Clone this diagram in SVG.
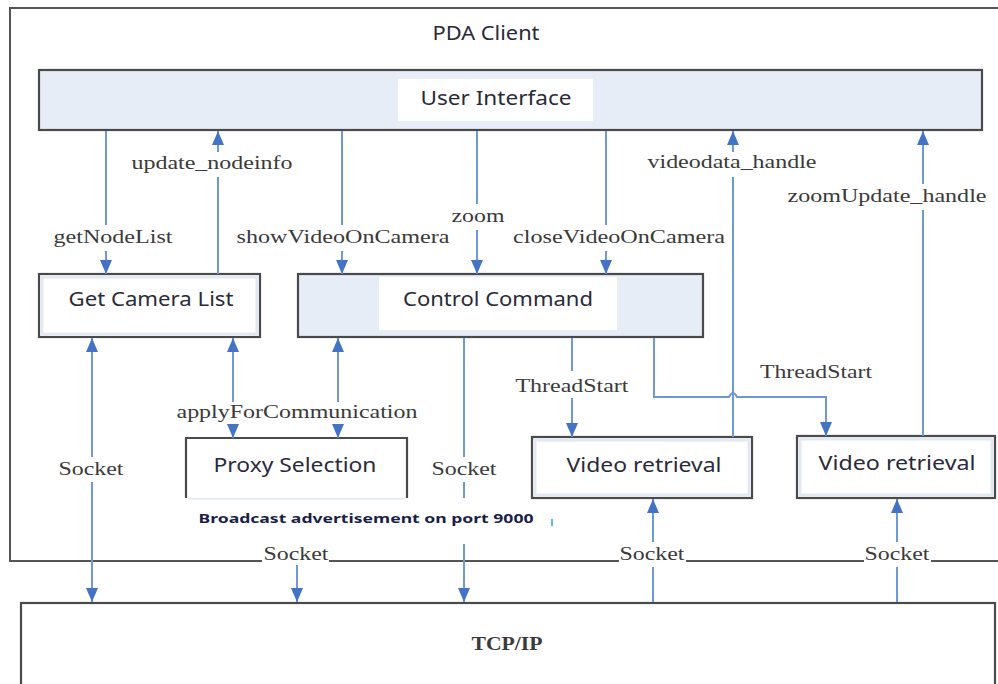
<svg xmlns="http://www.w3.org/2000/svg" width="998" height="684" viewBox="0 0 998 684">
<style>
.frame{fill:none;stroke:#555;stroke-width:2}
.box{fill:#fff;stroke:#4a4a4a;stroke-width:2.2}
.boxb{fill:#e6edf7;stroke:#4a4a4a;stroke-width:2.2}
.inner{fill:none;stroke:#e2e9f4;stroke-width:3}
.t{font-family:"Noto Sans","Open Sans",sans-serif;font-size:19px;fill:#2a2a3a;text-anchor:middle}
.l{font-family:"Liberation Serif","Times New Roman",serif;font-size:19px;fill:#3a3a3a;text-anchor:middle}
.c{fill:none;stroke:#7098d4;stroke-width:2}
.bc{font-family:"Noto Sans","Open Sans",sans-serif;font-size:13px;font-weight:bold;fill:#1a1f4a;text-anchor:middle}
</style>
<defs>
<marker id="ah" viewBox="0 0 14 12" refX="14" refY="6" markerWidth="14" markerHeight="12" markerUnits="userSpaceOnUse" orient="auto">
<path d="M0,0 L14,6 L0,12 z" fill="#4472c4"/>
</marker>
</defs>
<rect width="998" height="684" fill="#fff"/>
<g id="pda-client">
<path class="frame" d="M1000,8 L10,8 L10,561 L262,561 M329,561 L619,561 M686,561 L864,561 M931,561 L1000,561"/>
<text class="t" x="486" y="40" textLength="107" lengthAdjust="spacingAndGlyphs" font-size="18">PDA Client</text>
</g>
<g id="user-interface">
<rect class="boxb" x="39" y="70" width="943" height="60"/>
<rect x="398" y="79" width="195" height="42" fill="#fff"/>
<text class="t" x="496" y="105" textLength="151" lengthAdjust="spacingAndGlyphs">User Interface</text>
</g>
<g id="get-camera-list">
<rect class="box" x="39" y="274" width="221" height="63"/>
<rect class="inner" x="42" y="277" width="215" height="57"/>
<text class="t" x="151" y="306" textLength="165" lengthAdjust="spacingAndGlyphs">Get Camera List</text>
</g>
<g id="control-command">
<rect class="boxb" x="298" y="274" width="405" height="63"/>
<rect x="379" y="277" width="238" height="53" fill="#fff"/>
<text class="t" x="498" y="306" textLength="190" lengthAdjust="spacingAndGlyphs">Control Command</text>
</g>
<g id="proxy-selection">
<rect x="186" y="438" width="221" height="60" fill="#fff"/>
<rect class="inner" x="189" y="441" width="215" height="57"/>
<path class="box" fill="none" d="M186,498 L186,438 L407,438 L407,498"/>
<text class="t" x="295" y="472" textLength="163" lengthAdjust="spacingAndGlyphs">Proxy Selection</text>
</g>
<g id="video-retrieval-1">
<rect class="box" x="532" y="437" width="220" height="61"/>
<rect class="inner" x="535" y="440" width="214" height="55"/>
<text class="t" x="644" y="472" textLength="155" lengthAdjust="spacingAndGlyphs">Video retrieval</text>
</g>
<g id="video-retrieval-2">
<rect class="box" x="797" y="436" width="198" height="62"/>
<rect class="inner" x="800" y="439" width="192" height="56"/>
<text class="t" x="897" y="470" textLength="157" lengthAdjust="spacingAndGlyphs">Video retrieval</text>
</g>
<g id="tcp-ip">
<rect class="box" x="21" y="603" width="974" height="90"/>
<text class="l" x="507" y="650" font-weight="bold" fill="#444" textLength="71" lengthAdjust="spacingAndGlyphs">TCP/IP</text>
</g>
<g id="broadcast-note">
<text class="bc" x="366" y="523" textLength="335" lengthAdjust="spacingAndGlyphs">Broadcast advertisement on port 9000</text>
<line x1="552" y1="519" x2="552" y2="526" stroke="#2aa0d8" stroke-width="1.5"/>
</g>
<g id="connectors">
<path class="c" marker-end="url(#ah)" d="M106,131 L106,225 M106,251 L106,274"/>
<path class="c" marker-end="url(#ah)" d="M218,274 L218,177 M218,152 L218,131"/>
<path class="c" marker-end="url(#ah)" d="M342,131 L342,225 M342,251 L342,274"/>
<path class="c" marker-end="url(#ah)" d="M477,131 L477,204 M477,230 L477,274"/>
<path class="c" marker-end="url(#ah)" d="M606,131 L606,225 M606,251 L606,274"/>
<path class="c" marker-end="url(#ah)" d="M733,437 L733,177 M733,152 L733,131"/>
<path class="c" marker-end="url(#ah)" d="M923,436 L923,210 M923,184 L923,131"/>
<path class="c" marker-end="url(#ah)" d="M92,457 L92,338"/>
<path class="c" marker-end="url(#ah)" d="M92,482 L92,602"/>
<path class="c" marker-end="url(#ah)" d="M233,402 L233,338"/>
<path class="c" marker-end="url(#ah)" d="M233,425 L233,438"/>
<path class="c" marker-end="url(#ah)" d="M338,402 L338,338"/>
<path class="c" marker-end="url(#ah)" d="M338,425 L338,438"/>
<path class="c" marker-end="url(#ah)" d="M464,338 L464,457 M464,482 L464,498 M464,544 L464,602"/>
<path class="c" marker-end="url(#ah)" d="M297,565 L297,602"/>
<path class="c" marker-end="url(#ah)" d="M572,338 L572,371 M572,398 L572,437"/>
<path class="c" marker-end="url(#ah)" d="M654,338 L654,397 L729,397 Q733,389 737,397 L826,397 L826,436"/>
<path class="c" marker-end="url(#ah)" d="M653,602 L653,567 M653,542 L653,499"/>
<path class="c" marker-end="url(#ah)" d="M897,602 L897,567 M897,542 L897,499"/>
</g>
<g id="labels">
<text class="l" x="212" y="169" textLength="161" lengthAdjust="spacingAndGlyphs">update_nodeinfo</text>
<text class="l" x="113" y="243" textLength="119" lengthAdjust="spacingAndGlyphs">getNodeList</text>
<text class="l" x="343" y="243" textLength="213" lengthAdjust="spacingAndGlyphs">showVideoOnCamera</text>
<text class="l" x="478" y="222" textLength="53" lengthAdjust="spacingAndGlyphs">zoom</text>
<text class="l" x="619" y="243" textLength="212" lengthAdjust="spacingAndGlyphs">closeVideoOnCamera</text>
<text class="l" x="732" y="168" textLength="169" lengthAdjust="spacingAndGlyphs">videodata_handle</text>
<text class="l" x="887" y="202" textLength="199" lengthAdjust="spacingAndGlyphs">zoomUpdate_handle</text>
<text class="l" x="297" y="418" textLength="241" lengthAdjust="spacingAndGlyphs">applyForCommunication</text>
<text class="l" x="572" y="392" textLength="113" lengthAdjust="spacingAndGlyphs">ThreadStart</text>
<text class="l" x="816" y="378" textLength="112" lengthAdjust="spacingAndGlyphs">ThreadStart</text>
<text class="l" x="91" y="475" textLength="65" lengthAdjust="spacingAndGlyphs">Socket</text>
<text class="l" x="464" y="475" textLength="65" lengthAdjust="spacingAndGlyphs">Socket</text>
<text class="l" x="296" y="560" textLength="65" lengthAdjust="spacingAndGlyphs">Socket</text>
<text class="l" x="652" y="560" textLength="65" lengthAdjust="spacingAndGlyphs">Socket</text>
<text class="l" x="897" y="560" textLength="65" lengthAdjust="spacingAndGlyphs">Socket</text>
</g>
</svg>
